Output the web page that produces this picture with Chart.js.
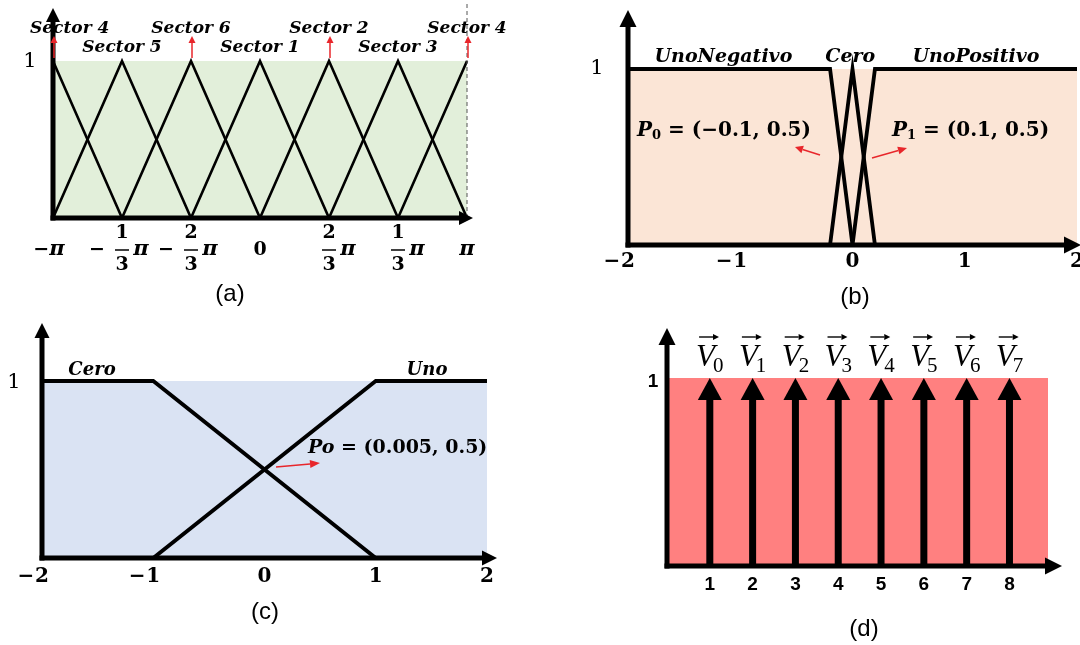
<!DOCTYPE html>
<html>
<head>
<meta charset="utf-8">
<script src="https://cdn.jsdelivr.net/npm/chart.js@4.4.0/dist/chart.umd.min.js"></script>
<style>
body { margin: 0; background: #fff; width: 1080px; height: 645px; overflow: hidden; position: relative; }
canvas { position: absolute; }
</style>
</head>
<body>
<canvas id="pa" width="540" height="320" style="left:0;top:0"></canvas>
<canvas id="pb" width="540" height="320" style="left:540px;top:0"></canvas>
<canvas id="pc" width="540" height="325" style="left:0;top:320px"></canvas>
<canvas id="pd" width="540" height="325" style="left:540px;top:320px"></canvas>
<script>
// (a) sector membership over the angle
const anglePoints = [-3.1416, -2.0944, -1.0472, 0, 1.0472, 2.0944, 3.1416];
const angleTickLabels = ['−π', '−1/3π', '−2/3π', '0', '2/3π', '1/3π', 'π'];
const sectorNames = ['Sector 4', 'Sector 5', 'Sector 6', 'Sector 1', 'Sector 2', 'Sector 3', 'Sector 4'];
const sector4Left = [1, 0, 0, 0, 0, 0, 0];
const sector5 = [0, 1, 0, 0, 0, 0, 0];
const sector6 = [0, 0, 1, 0, 0, 0, 0];
const sector1 = [0, 0, 0, 1, 0, 0, 0];
const sector2 = [0, 0, 0, 0, 1, 0, 0];
const sector3 = [0, 0, 0, 0, 0, 1, 0];
const sector4Right = [0, 0, 0, 0, 0, 0, 1];

// (b) error membership
const errPoints = [-2, -0.2, 0, 0.2, 2];
const unoNegativo = [1, 1, 0, 0, 0];
const ceroB = [0, 0, 1, 0, 0];
const unoPositivo = [0, 0, 0, 1, 1];
const errTicks = [-2, -1, 0, 1, 2];
const errTickLabels = ['−2', '−1', '0', '1', '2'];

// (c) second input membership
const cPoints = [-2, -1, 1, 2];
const ceroC = [1, 1, 0, 0];
const unoC = [0, 0, 1, 1];

// (d) output vectors (singletons)
const vectorPos = [1, 2, 3, 4, 5, 6, 7, 8];
const vectorMembership = [1, 1, 1, 1, 1, 1, 1, 1];
const vectorSubs = ['0', '1', '2', '3', '4', '5', '6', '7'];
const vectorTickLabels = ['1', '2', '3', '4', '5', '6', '7', '8'];

const RED = '#e8262b';
const BI = s => `italic bold ${s}px "DejaVu Serif"`;
const B = s => `bold ${s}px "DejaVu Serif"`;

function pts(xs, ys) {
    return xs.map((x, i) => ({ x: x, y: ys[i] }));
}

function arrow(ctx, x1, y1, x2, y2, lw, hl, hw, color) {
    const a = Math.atan2(y2 - y1, x2 - x1);
    const bx = x2 - Math.cos(a) * hl, by = y2 - Math.sin(a) * hl;
    ctx.save();
    ctx.strokeStyle = color;
    ctx.fillStyle = color;
    ctx.lineWidth = lw;
    ctx.beginPath();
    ctx.moveTo(x1, y1);
    ctx.lineTo(bx, by);
    ctx.stroke();
    ctx.beginPath();
    ctx.moveTo(x2, y2);
    ctx.lineTo(bx + Math.sin(a) * hw / 2, by - Math.cos(a) * hw / 2);
    ctx.lineTo(bx - Math.sin(a) * hw / 2, by + Math.cos(a) * hw / 2);
    ctx.closePath();
    ctx.fill();
    ctx.restore();
}

// y axis and x axis with arrow heads
function axes(chart, yTip, xTip, lw, head) {
    const { ctx, chartArea: ca } = chart;
    arrow(ctx, ca.left, ca.bottom + lw / 2, ca.left, yTip, lw, head, head, '#000');
    arrow(ctx, ca.left - lw / 2, ca.bottom, xTip, ca.bottom, lw, head, head, '#000');
}

// text made of several runs: [text, font, dy]
function runs(ctx, x, y, parts, align) {
    let w = 0;
    parts.forEach(p => { ctx.font = p[1]; w += ctx.measureText(p[0]).width; });
    let cx = align === 'center' ? x - w / 2 : x;
    ctx.save();
    ctx.fillStyle = '#000';
    ctx.textAlign = 'left';
    ctx.textBaseline = 'middle';
    parts.forEach(p => {
        ctx.font = p[1];
        ctx.fillText(p[0], cx, y + (p[2] || 0));
        cx += ctx.measureText(p[0]).width;
    });
    ctx.restore();
    return w;
}

function text(ctx, s, x, y, font, align) {
    ctx.save();
    ctx.fillStyle = '#000';
    ctx.font = font;
    ctx.textAlign = align || 'center';
    ctx.textBaseline = 'middle';
    ctx.fillText(s, x, y);
    ctx.restore();
}

function angleLabel(ctx, x, y, label) {
    const m = label.match(/^(−?)(\d)\/(\d)π$/);
    if (!m) {
        const parts = [];
        for (const ch of label) parts.push([ch, ch === 'π' ? BI(21) : B(19)]);
        runs(ctx, label === '−π' ? x - 4 : x, y, parts, 'center');
        return;
    }
    if (m[1]) text(ctx, '−', x - 25, y, B(19));
    text(ctx, m[2], x, y - 17, B(19));
    text(ctx, m[3], x, y + 15, B(19));
    ctx.save();
    ctx.strokeStyle = '#000';
    ctx.lineWidth = 1.5;
    ctx.beginPath();
    ctx.moveTo(x - 7, y);
    ctx.lineTo(x + 7, y);
    ctx.stroke();
    ctx.restore();
    text(ctx, 'π', x + 19, y, BI(21));
}

function makeChart(id, datasets, xMin, xMax, pad, decor) {
    return new Chart(document.getElementById(id), {
        type: 'line',
        data: { datasets: datasets },
        options: {
            responsive: false,
            animation: false,
            layout: { padding: pad },
            plugins: { legend: { display: false }, tooltip: { enabled: false } },
            scales: {
                x: { type: 'linear', min: xMin, max: xMax, display: false },
                y: { min: 0, max: 1, display: false }
            },
            elements: { point: { radius: 0 }, line: { tension: 0 } }
        },
        plugins: [decor]
    });
}

function fillArea(color) {
    return chart => {
        const { ctx, chartArea: ca } = chart;
        ctx.save();
        ctx.fillStyle = color;
        ctx.fillRect(ca.left, ca.top, ca.right - ca.left, ca.bottom - ca.top);
        ctx.restore();
    };
}

function numTicks(ctx, x, y) {
    errTicks.forEach((v, i) => {
        const px = x.getPixelForValue(v);
        const lab = errTickLabels[i];
        if (lab[0] === '−') {
            text(ctx, lab.slice(1), px, y, B(20));
            text(ctx, '−', px - 16, y, B(20));
        } else {
            text(ctx, lab, px, y, B(20));
        }
    });
}

// ---------- (a) ----------
const sectorSeries = [sector4Left, sector5, sector6, sector1, sector2, sector3, sector4Right];
makeChart('pa', sectorSeries.map(s => ({
    data: pts(anglePoints, s), borderColor: '#000', borderWidth: 2.6, clip: false
})), -3.1416, 3.1416, { left: 53, top: 61, right: 73, bottom: 102 }, {
    id: 'decorA',
    beforeDraw: fillArea('#e2efda'),
    afterDatasetsDraw(chart) {
        const { ctx, chartArea: ca, scales: { x } } = chart;
        const xr = x.getPixelForValue(anglePoints[6]);
        ctx.save();
        ctx.strokeStyle = '#555';
        ctx.lineWidth = 1;
        ctx.setLineDash([4, 3]);
        ctx.beginPath();
        ctx.moveTo(xr, 4);
        ctx.lineTo(xr, ca.bottom);
        ctx.stroke();
        ctx.restore();
        axes(chart, 8, 473, 5, 14);
        text(ctx, '1', 30, ca.top + 1, '21px "DejaVu Serif"');
        anglePoints.forEach((v, i) => {
            const px = x.getPixelForValue(v);
            angleLabel(ctx, px, 250, angleTickLabels[i]);
            ctx.font = BI(17);
            const w = ctx.measureText(sectorNames[i]).width;
            const cx = Math.max(px, 30 + w / 2);
            text(ctx, sectorNames[i], cx, i % 2 === 0 ? 29 : 48, BI(17));
            if (i % 2 === 0) arrow(ctx, px + 1, 58, px + 1, 36, 1.5, 7, 7, RED);
        });
        text(ctx, '(a)', 230, 294, '24px "Liberation Sans"');
    }
});

// ---------- (b) ----------
makeChart('pb', [unoNegativo, ceroB, unoPositivo].map(s => ({
    data: pts(errPoints, s), borderColor: '#000', borderWidth: 3.8, clip: false
})), -2, 2, { left: 88, top: 69, right: 3, bottom: 75 }, {
    id: 'decorB',
    beforeDraw: fillArea('#fbe5d6'),
    afterDatasetsDraw(chart) {
        const { ctx, chartArea: ca, scales: { x } } = chart;
        axes(chart, 10, 541, 5, 17);
        text(ctx, '1', 57, ca.top, '21px "DejaVu Serif"');
        numTicks(ctx, x, 262);
        text(ctx, 'UnoNegativo', x.getPixelForValue(-1.15), 57, BI(19));
        text(ctx, 'Cero', x.getPixelForValue(-0.02), 57, BI(19));
        text(ctx, 'UnoPositivo', x.getPixelForValue(1.1), 57, BI(19));
        runs(ctx, 97, 131, [['P', BI(20)], ['0', B(13), 5], [' = (−0.1, 0.5)', B(20)]]);
        runs(ctx, 352, 131, [['P', BI(20)], ['1', B(13), 5], [' = (0.1, 0.5)', B(20)]]);
        arrow(ctx, 280, 155, 255, 147, 1.5, 8, 8, RED);
        arrow(ctx, 332, 158, 367, 148, 1.5, 9, 8, RED);
        text(ctx, '(b)', 315, 297, '24px "Liberation Sans"');
    }
});

// ---------- (c) ----------
makeChart('pc', [ceroC, unoC].map(s => ({
    data: pts(cPoints, s), borderColor: '#000', borderWidth: 3.8, clip: false
})), -2, 2, { left: 42, top: 61, right: 53, bottom: 87 }, {
    id: 'decorC',
    beforeDraw: fillArea('#dae3f3'),
    afterDatasetsDraw(chart) {
        const { ctx, chartArea: ca, scales: { x } } = chart;
        axes(chart, 3, 497, 5, 15);
        text(ctx, '1', 14, ca.top + 2, '21px "DejaVu Serif"');
        numTicks(ctx, x, 257);
        text(ctx, 'Cero', 92, 50, BI(18));
        text(ctx, 'Uno', 427, 50, BI(18));
        runs(ctx, 308, 128, [['Po', BI(19)], [' = (0.005, 0.5)', B(19)]]);
        arrow(ctx, 276, 147, 320, 143, 1.5, 10, 8, RED);
        text(ctx, '(c)', 265, 292, '24px "Liberation Sans"');
    }
});

// ---------- (d) ----------
makeChart('pd', [{
    data: pts(vectorPos, vectorMembership), showLine: false, borderWidth: 0, clip: false
}], 0, 8.9, { left: 127, top: 58, right: 32, bottom: 79 }, {
    id: 'decorD',
    beforeDraw: fillArea('#ff8080'),
    afterDatasetsDraw(chart) {
        const { ctx, chartArea: ca } = chart;
        const meta = chart.getDatasetMeta(0);
        meta.data.forEach((pt, i) => {
            arrow(ctx, pt.x, ca.bottom, pt.x, pt.y, 7, 22, 24, '#000');
            text(ctx, vectorTickLabels[i], pt.x, 265, 'bold 19px "Liberation Sans"');
            // vector name with arrow above
            ctx.font = 'italic 31px "Liberation Serif"';
            const vw = ctx.measureText('V').width;
            ctx.font = '21px "Liberation Serif"';
            const sw = ctx.measureText(vectorSubs[i]).width;
            const left = pt.x - (vw + sw) / 2 + 1;
            ctx.save();
            ctx.fillStyle = '#000';
            ctx.textAlign = 'left';
            ctx.textBaseline = 'alphabetic';
            ctx.font = 'italic 31px "Liberation Serif"';
            ctx.fillText('V', left, 46);
            ctx.font = '21px "Liberation Serif"';
            ctx.fillText(vectorSubs[i], left + vw - 2, 52);
            ctx.restore();
            arrow(ctx, left + 3, 17, left + vw + 4, 17, 1.4, 6, 6, '#000');
        });
        axes(chart, 8, 522, 5, 17);
        text(ctx, '1', 113, ca.top + 4, 'bold 19px "Liberation Sans"');
        text(ctx, '(d)', 324, 309, '24px "Liberation Sans"');
    }
});
</script>
</body>
</html>
